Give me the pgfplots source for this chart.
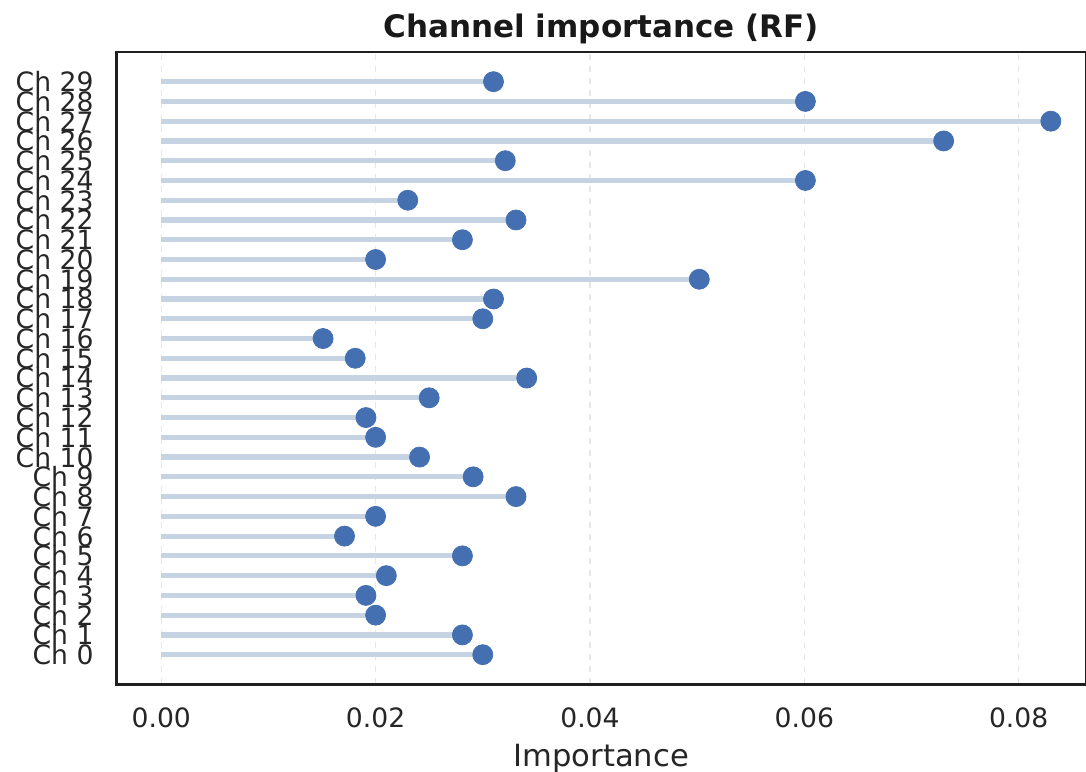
\documentclass[border=0pt]{standalone}
\usepackage{pgfplots}
\pgfplotsset{compat=1.18}
\usepackage{fontspec}
\setmainfont{DejaVu Sans}
\definecolor{txt}{HTML}{262626}
\definecolor{stem}{HTML}{C5D3E2}
\definecolor{dot}{HTML}{4470B2}
\definecolor{gridc}{HTML}{E6E6E6}
\begin{document}
\begin{tikzpicture}
\begin{axis}[
  scale only axis,
  width=484.5pt, height=316pt,
  xmin=-0.00417, xmax=0.08628,
  ymin=-1.5, ymax=30.5,
  axis line style={line width=1.3pt, color=black!88},
  xtick={0,0.02,0.04,0.06,0.08},
  ytick={0,1,...,29},
  yticklabels={Ch 0,Ch 1,Ch 2,Ch 3,Ch 4,Ch 5,Ch 6,Ch 7,Ch 8,Ch 9,Ch 10,Ch 11,Ch 12,Ch 13,Ch 14,Ch 15,Ch 16,Ch 17,Ch 18,Ch 19,Ch 20,Ch 21,Ch 22,Ch 23,Ch 24,Ch 25,Ch 26,Ch 27,Ch 28,Ch 29},
  major tick length=0pt,
  scaled x ticks=false,
  /pgf/number format/fixed,
  /pgf/number format/fixed zerofill,
  /pgf/number format/precision=2,
  /pgf/number format/assume math mode=true,
  ticklabel style={font=\fontsize{13.3pt}{14pt}\selectfont, text=txt},
  xticklabel style={yshift=-8pt},
  yticklabel style={xshift=-8pt},
  xmajorgrids,
  ymajorgrids=false,
  major grid style={gridc, dashed, line width=0.6pt},
  xlabel={Importance},
  xlabel style={font=\fontsize{15.3pt}{16pt}\selectfont, text=txt, at={(axis description cs:0.5,-0.13)}, anchor=base},
  title={\bfseries Channel importance (RF)},
  title style={font=\fontsize{15.5pt}{16pt}\selectfont, text=black!90, at={(axis description cs:0.5,1)}, anchor=base, yshift=1.5pt},
  clip=false,
]
\addplot[only marks, mark=*, mark size=5pt, dot, mark options={draw=dot, fill=dot}] coordinates {
(0.0300,0) (0.0281,1) (0.0200,2) (0.0191,3) (0.0210,4) (0.0281,5) (0.0171,6) (0.0200,7) (0.0331,8) (0.0291,9)
(0.0241,10) (0.0200,11) (0.0191,12) (0.0250,13) (0.0341,14) (0.0181,15) (0.0151,16) (0.0300,17) (0.0310,18) (0.0502,19)
(0.0200,20) (0.0281,21) (0.0331,22) (0.0230,23) (0.0601,24) (0.0321,25) (0.0730,26) (0.0830,27) (0.0601,28) (0.0310,29)
};
\addplot[xcomb, stem, line width=2.6pt, mark=none] coordinates {
(0.0300,0) (0.0281,1) (0.0200,2) (0.0191,3) (0.0210,4) (0.0281,5) (0.0171,6) (0.0200,7) (0.0331,8) (0.0291,9)
(0.0241,10) (0.0200,11) (0.0191,12) (0.0250,13) (0.0341,14) (0.0181,15) (0.0151,16) (0.0300,17) (0.0310,18) (0.0502,19)
(0.0200,20) (0.0281,21) (0.0331,22) (0.0230,23) (0.0601,24) (0.0321,25) (0.0730,26) (0.0830,27) (0.0601,28) (0.0310,29)
};
\end{axis}
\pgfresetboundingbox
\useasboundingbox ([shift={(-58.25pt,-43.5pt)}]current axis.south west) rectangle ([shift={(0pt,26pt)}]current axis.north east);
\end{tikzpicture}
\end{document}
